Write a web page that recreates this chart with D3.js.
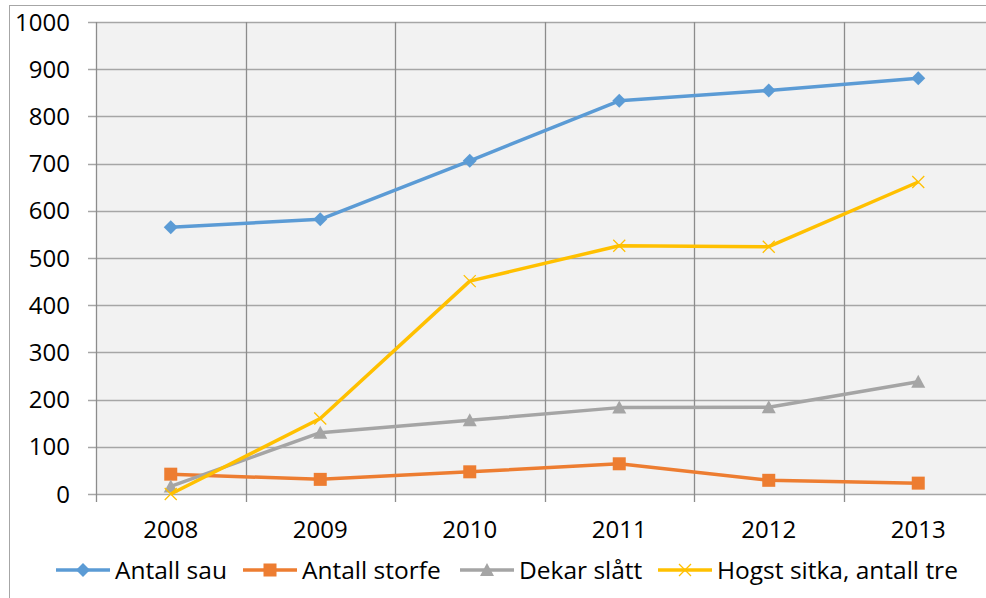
<!DOCTYPE html>
<html>
<head>
<meta charset="utf-8">
<script src="https://cdn.jsdelivr.net/npm/d3@7"></script>
<style>
  body { margin: 0; background: #fff; }
  text { font-family: "Open Sans", sans-serif; fill: #000; }
</style>
</head>
<body>
<svg id="svg" width="986" height="598"></svg>
<script>
var years = ["2008", "2009", "2010", "2011", "2012", "2013"];
var yTicks = [0, 100, 200, 300, 400, 500, 600, 700, 800, 900, 1000];
var sau = [565, 582, 706, 833, 855, 881];
var storfe = [42, 31, 47, 64, 29, 23];
var dekar = [16, 130, 156, 183, 184, 238];
var hogst = [0, 160, 451, 526, 524, 661];
var seriesNames = ["Antall sau", "Antall storfe", "Dekar slått", "Hogst sitka, antall tre"];
var seriesColors = ["#5b9bd5", "#ed7d31", "#a5a5a5", "#ffc000"];
var seriesMarkers = ["diamond", "square", "triangle", "cross"];

var series = [sau, storfe, dekar, hogst].map(function(v, i) {
  return { name: seriesNames[i], color: seriesColors[i], marker: seriesMarkers[i], values: v };
});

var svg = d3.select("#svg");

// outer chart border (runs off the right/bottom of the picture)
svg.append("rect")
    .attr("x", 9.5).attr("y", 5.5)
    .attr("width", 1000).attr("height", 700)
    .attr("fill", "#fff")
    .attr("stroke", "#a6a6a6");

var plotL = 96, plotR = 993, plotT = 22, plotB = 494;

var x = d3.scaleBand()
    .domain(years)
    .range([plotL, plotR]);

var y = d3.scaleLinear()
    .domain([0, 1000])
    .range([plotB, plotT]);

svg.append("rect")
    .attr("x", plotL).attr("y", plotT)
    .attr("width", plotR - plotL).attr("height", plotB - plotT)
    .attr("fill", "#f2f2f2");

// horizontal grid
svg.append("g")
  .selectAll("line")
  .data(yTicks)
  .enter().append("line")
    .attr("x1", plotL - 8).attr("x2", plotR)
    .attr("y1", function(d) { return Math.round(y(d)) + 0.5; })
    .attr("y2", function(d) { return Math.round(y(d)) + 0.5; })
    .attr("stroke", "#a6a6a6")
    .attr("stroke-width", 1.3);

// vertical grid (category boundaries)
var bounds = years.map(function(d) { return x(d); }).concat([plotR]);
svg.append("g")
  .selectAll("line")
  .data(bounds)
  .enter().append("line")
    .attr("x1", function(d) { return Math.round(d) + 0.5; })
    .attr("x2", function(d) { return Math.round(d) + 0.5; })
    .attr("y1", plotT).attr("y2", plotB + 8)
    .attr("stroke", "#8c8c8c")
    .attr("stroke-width", 1.3);

// y labels
svg.append("g")
  .selectAll("text")
  .data(yTicks)
  .enter().append("text")
    .attr("x", 70)
    .attr("y", function(d) { return y(d); })
    .attr("dy", "0.36em")
    .attr("text-anchor", "end")
    .attr("font-size", 24)
    .text(function(d) { return d; });

// x labels
svg.append("g")
  .selectAll("text")
  .data(years)
  .enter().append("text")
    .attr("x", function(d) { return x(d) + x.bandwidth() / 2; })
    .attr("y", 538)
    .attr("text-anchor", "middle")
    .attr("font-size", 24)
    .text(function(d) { return d; });

var line = d3.line()
    .x(function(d, i) { return x(years[i]) + x.bandwidth() / 2; })
    .y(function(d) { return y(d); });

function drawMarker(g, type, color, cx, cy) {
  if (type == "diamond") {
    g.append("path")
      .attr("d", "M" + cx + "," + (cy - 7) + "L" + (cx + 7) + "," + cy + "L" + cx + "," + (cy + 7) + "L" + (cx - 7) + "," + cy + "Z")
      .attr("fill", color);
  } else if (type == "square") {
    g.append("rect")
      .attr("x", cx - 6.5).attr("y", cy - 6.5)
      .attr("width", 13).attr("height", 13)
      .attr("fill", color);
  } else if (type == "triangle") {
    g.append("path")
      .attr("d", "M" + cx + "," + (cy - 7) + "L" + (cx + 7) + "," + (cy + 6) + "L" + (cx - 7) + "," + (cy + 6) + "Z")
      .attr("fill", color);
  } else {
    g.append("path")
      .attr("d", "M" + (cx - 6) + "," + (cy - 6) + "L" + (cx + 6) + "," + (cy + 6) + "M" + (cx + 6) + "," + (cy - 6) + "L" + (cx - 6) + "," + (cy + 6))
      .attr("stroke", color)
      .attr("stroke-width", 1.3)
      .attr("fill", "none");
  }
}

series.forEach(function(s) {
  var g = svg.append("g");
  g.append("path")
    .datum(s.values)
    .attr("d", line)
    .attr("fill", "none")
    .attr("stroke", s.color)
    .attr("stroke-width", 3.5)
    .attr("stroke-linejoin", "round");
  s.values.forEach(function(v, i) {
    drawMarker(g, s.marker, s.color, x(years[i]) + x.bandwidth() / 2, y(v));
  });
});

// legend
var legendX = [56, 243, 460, 658];
var legend = svg.append("g");
series.forEach(function(s, i) {
  var lx = legendX[i], ly = 570;
  legend.append("line")
    .attr("x1", lx).attr("x2", lx + 54)
    .attr("y1", ly).attr("y2", ly)
    .attr("stroke", s.color)
    .attr("stroke-width", 3.5);
  drawMarker(legend, s.marker, s.color, lx + 27, ly);
  legend.append("text")
    .attr("x", lx + 59)
    .attr("y", ly)
    .attr("dy", "0.36em")
    .attr("font-size", 24.5)
    .text(s.name);
});
</script>
</body>
</html>
